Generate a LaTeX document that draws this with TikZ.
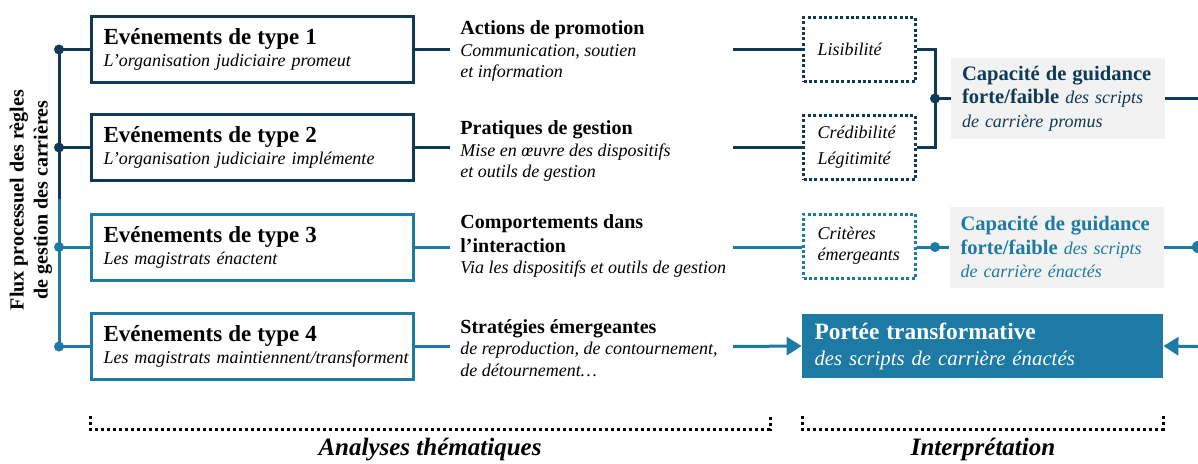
\documentclass[tikz,border=0pt]{standalone}
\usepackage{fontspec}
\setmainfont{Liberation Serif}
\usetikzlibrary{arrows.meta,positioning}
\definecolor{flowdark}{RGB}{14,58,88}
\definecolor{flowlight}{RGB}{29,122,164}
\definecolor{guidegray}{RGB}{242,242,242}

\begin{document}
\begin{tikzpicture}[x=0.5pt,y=-0.5pt]
  \tikzset{
    event/.style={draw=#1, line width=1.5pt, fill=white, minimum width=161pt, minimum height=33pt, text width=149pt, inner xsep=6pt, align=left, font=\fontsize{9}{11}\selectfont},
    theme/.style={anchor=west, inner xsep=5pt, align=left, font=\fontsize{9}{10.8}\selectfont},
    dotbox/.style={draw=#1, line width=1.5pt, dash pattern=on 1.5pt off 1.2pt, minimum width=56pt, minimum height=32pt, text width=42pt, inner xsep=7pt, align=left, font=\fontsize{9}{10.5}\selectfont\itshape},
    guide/.style={fill=guidegray, text=#1, minimum width=107pt, minimum height=40.5pt, text width=96pt, inner xsep=5.5pt, align=left, font=\fontsize{9}{11.7}\selectfont},
    reach/.style={fill=flowlight, text=white, minimum width=180.5pt, minimum height=32pt, text width=168pt, inner xsep=6pt, align=left, font=\fontsize{10.4}{13}\selectfont},
    link/.style={draw=#1, line width=1.5pt},
    dot/.style={circle, fill=#1, minimum size=5pt, inner sep=0pt},
    bracket/.style={draw=black, line width=1.5pt, dash pattern=on 1.5pt off 1.5pt},
    phase/.style={anchor=base, font=\fontsize{12.5}{14}\selectfont\bfseries\itshape},
  }
  \useasboundingbox (0,0) rectangle (1198,463);

  \coordinate (sp1) at (59,49.5);  % spine, type 1
  \coordinate (sp2) at (59,147.5); % spine, type 2
  \coordinate (sp3) at (59,247);   % spine, type 3
  \coordinate (sp4) at (59,346.5); % spine, type 4
  \coordinate (spm) at (59,199);   % colour change
  \coordinate (r1) at (733,49.5);
  \coordinate (r2) at (733,147.5);
  \coordinate (r3) at (733,247);
  \coordinate (r4) at (733,346.5);
  \coordinate (j1) at (935,98.5);
  \coordinate (j2) at (935,247);
  \coordinate (e1) at (1198,98.5);
  \coordinate (e2) at (1198,247);
  \coordinate (e3) at (1198,346.5);

  % Flow label on the left.
  \node[rotate=90, align=center, font=\fontsize{10}{12}\selectfont\bfseries] (flux) at (31,200) {Flux processuel des règles\\de gestion des carrières};

  % Event boxes.
  \node[event=flowdark] (ev1) at (252.5,49.5) {\textbf{\fontsize{11.5}{13}\selectfont Evénements de type 1}\\\textit{L'organisation judiciaire promeut}};
  \node[event=flowdark] (ev2) at (252.5,147.5) {\textbf{\fontsize{11.5}{13}\selectfont Evénements de type 2}\\\textit{L'organisation judiciaire implémente}};
  \node[event=flowlight] (ev3) at (252.5,247) {\textbf{\fontsize{11.5}{13}\selectfont Evénements de type 3}\\\textit{Les magistrats énactent}};
  \node[event=flowlight] (ev4) at (252.5,346.5) {\textbf{\fontsize{11.5}{13}\selectfont Evénements de type 4}\\\mbox{\textit{Les magistrats maintiennent/transforment}}};

  % Themes of the analysis.
  \node[theme] (act) at (450,51) {\textbf{\fontsize{10}{12}\selectfont Actions de promotion}\\\textit{Communication, soutien}\\\textit{et information}};
  \node[theme] (prat) at (450,151) {\textbf{\fontsize{10}{12}\selectfont Pratiques de gestion}\\\textit{Mise en œuvre des dispositifs}\\\textit{et outils de gestion}};
  \node[theme] (comp) at (450,246) {\textbf{\fontsize{10}{12}\selectfont Comportements dans}\\[1pt]\textbf{\fontsize{10}{12}\selectfont l'interaction}\\\textit{Via les dispositifs et outils de gestion}};
  \node[theme] (strat) at (450,348) {\textbf{\fontsize{10}{12}\selectfont Stratégies émergeantes}\\\textit{de reproduction, de contournement,}\\\textit{de détournement…}};

  % Interpretation.
  \node[dotbox=flowdark] (lis) at (859.5,49.5) {Lisibilité};
  \node[dotbox=flowdark] (cred) at (859.5,147.5) {Crédibilité\\[2.5pt]Légitimité};
  \node[dotbox=flowlight] (crit) at (859.5,246) {Critères\\émergeants};
  \node[guide=flowdark] (gp) at (1058,98.5) {\textbf{\fontsize{10.3}{12}\selectfont Capacité de guidance}\\\textbf{\fontsize{10.3}{12}\selectfont forte/faible} \textit{des scripts}\\\textit{de carrière promus}};
  \node[guide=flowlight] (gn) at (1056.5,247) {\textbf{\fontsize{10.3}{12}\selectfont Capacité de guidance}\\\textbf{\fontsize{10.3}{12}\selectfont forte/faible} \textit{des scripts}\\\textit{de carrière énactés}};
  \node[reach] (port) at (982.5,346) {\textbf{\fontsize{11.7}{13}\selectfont Portée transformative}\\\textit{des scripts de carrière énactés}};

  % Draw the connectors.
  \draw[link=flowdark] (sp1) -- (spm);
  \draw[link=flowlight] (spm) -- (sp4);
  \draw[link=flowdark] (sp1) -- (ev1.west);
  \draw[link=flowdark] (sp2) -- (ev2.west);
  \draw[link=flowlight] (sp3) -- (ev3.west);
  \draw[link=flowlight] (sp4) -- (ev4.west);
  \draw[link=flowdark] (ev1.east) -- (ev1.east -| act.west);
  \draw[link=flowdark] (ev2.east) -- (ev2.east -| prat.west);
  \draw[link=flowlight] (ev3.east) -- (ev3.east -| comp.west);
  \draw[link=flowlight] (ev4.east) -- (ev4.east -| strat.west);
  \draw[link=flowdark] (r1) -- (lis.west);
  \draw[link=flowdark] (r2) -- (cred.west);
  \draw[link=flowlight] (r3) -- (r3 -| crit.west);
  \draw[link=flowlight, -{Triangle[length=7.5pt,width=9pt]}] (r4) -- (port.west);
  \draw[link=flowdark] (lis.east) -| (j1) |- (cred.east);
  \draw[link=flowdark] (j1) -- (gp.west);
  \draw[link=flowdark] (gp.east) -- (e1);
  \draw[link=flowlight] (j2 -| crit.east) -- (gn.west);
  \draw[link=flowlight] (gn.east) -- (e2);
  \draw[link=flowlight, -{Triangle[length=7.5pt,width=9pt]}] (e3) -- (port.east);

  % Place the dots last, on top of the lines.
  \path (sp1) node[dot=flowdark] (dot1) {};
  \path (sp2) node[dot=flowdark] (dot2) {};
  \path (sp3) node[dot=flowlight] (dot3) {};
  \path (sp4) node[dot=flowlight] (dot4) {};
  \path (j1) node[dot=flowdark] (dot5) {};
  \path (j2) node[dot=flowlight] (dot6) {};
  \path (e2) node[dot=flowlight, minimum size=6pt] (dot7) {};

  % Brackets and phase labels.
  \draw[bracket] (90,416) -- (90,429) -- (770,429) -- (770,416);
  \draw[bracket] (802,416) -- (802,429) -- (1163,429) -- (1163,416);
  \node[phase] (ana) at (430,455) {Analyses thématiques};
  \node[phase] (interp) at (983,455) {Interprétation};
\end{tikzpicture}
\end{document}
